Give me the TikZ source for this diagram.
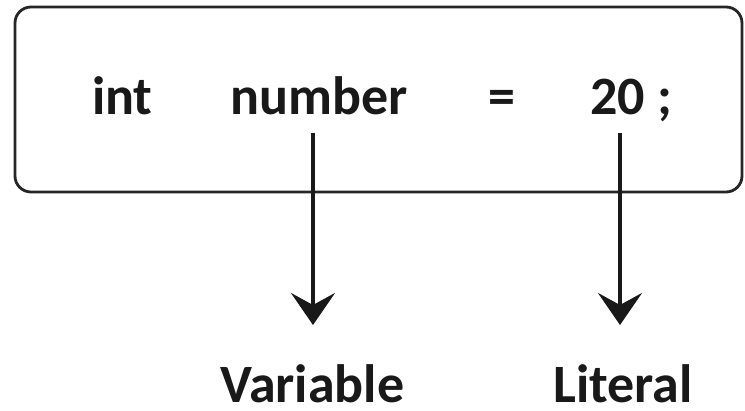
\documentclass[tikz,border=0pt]{standalone}
\usepackage{fontspec}
\setmainfont{Carlito}
\usetikzlibrary{arrows.meta}
\begin{document}
\begin{tikzpicture}[x=1pt,y=-1pt,
  codebox/.style={draw=black!85, line width=2.8pt, rounded corners=16pt, inner sep=0pt,
    minimum width=727pt, minimum height=185pt},
  word/.style={inner sep=0pt, anchor=base west, font=\fontsize{54}{60}\selectfont\bfseries, text=black!90},
  pointer/.style={line width=3.2pt, draw=black!90, -{Stealth[length=32pt,width=44pt,inset=12pt]}}]
\useasboundingbox (0,0) rectangle (745,411);
\node[codebox] (box) at (378.5,99.5) {};
\node[word] (int) at (92,115) {int};
\node[word] (num) at (230,115) {number};
\node[word, anchor=base] (eq) at (502,115) {=};
\node[word] (val) at (590,115) {20 ;};
\node[word] (var) at (220,403) {Variable};
\node[word] (lit) at (553,403) {Literal};
\coordinate (vs) at (313,133);
\coordinate (ve) at (313,325);
\coordinate (ls) at (620,133);
\coordinate (le) at (620,325);
\draw[pointer] (vs) -- (ve);
\draw[pointer] (ls) -- (le);
\end{tikzpicture}
\end{document}
